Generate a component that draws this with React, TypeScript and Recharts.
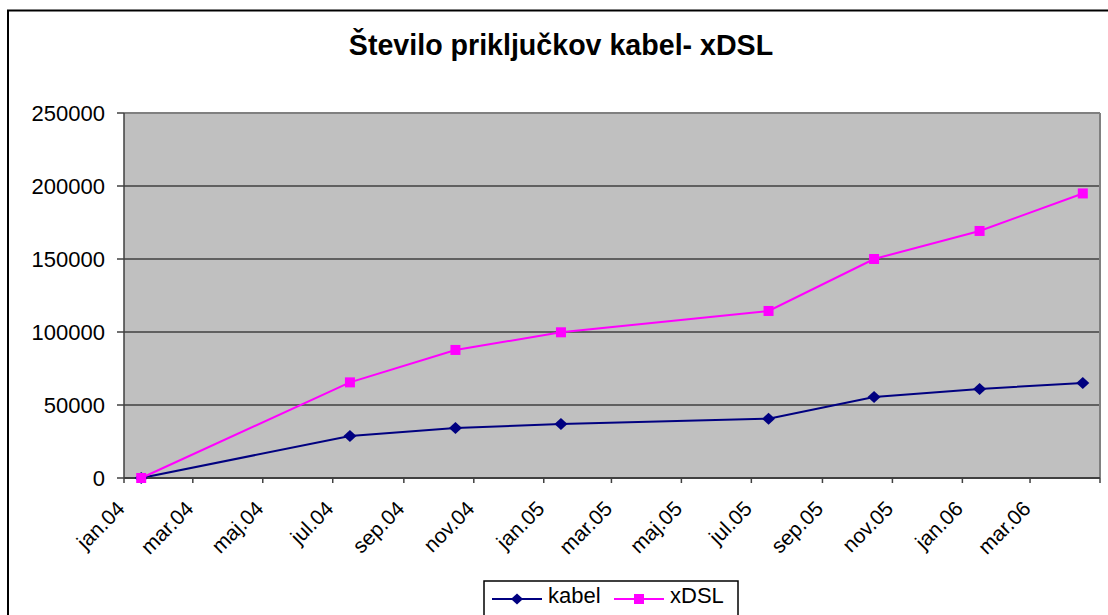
import React from 'react';
import {
  LineChart,
  Line,
  XAxis,
  YAxis,
  CartesianGrid,
  ReferenceLine,
  Legend,
} from 'recharts';

// measurement months (points sit in the middle of the month, like Excel's date axis)
const months = ['2004-01', '2004-07', '2004-10', '2005-01', '2005-07', '2005-10', '2006-01', '2006-04'];
const kabel = [0, 28800, 34300, 37000, 40600, 55500, 61000, 65100];
const xdsl = [0, 65500, 87700, 99800, 114400, 150000, 169200, 194900];

const tickLabels = [
  'jan.04', 'mar.04', 'maj.04', 'jul.04', 'sep.04', 'nov.04',
  'jan.05', 'mar.05', 'maj.05', 'jul.05', 'sep.05', 'nov.05',
  'jan.06', 'mar.06', '',
];
const yTicks = [0, 50000, 100000, 150000, 200000, 250000];

const KABEL_COLOR = '#000080';
const XDSL_COLOR = '#ff00ff';
const FONT = '"Liberation Sans", Arial, sans-serif';

const midMonth = (ym: string) => {
  const [y, m] = ym.split('-').map(Number);
  return Date.UTC(y, m - 1, 16);
};

const data = months.map((m, i) => ({
  t: midMonth(m),
  kabel: kabel[i],
  xDSL: xdsl[i],
}));

const xTicks = tickLabels.map((_, i) => Date.UTC(2004, i * 2, 1));
const xDomain = [xTicks[0], xTicks[xTicks.length - 1]];

const Diamond = (props: any) => {
  const { cx, cy, index } = props;
  if (cx == null || cy == null) return <g key={`d${index}`} />;
  return (
    <path
      key={`d${index}`}
      d={`M${cx},${cy - 6} L${cx + 6.5},${cy} L${cx},${cy + 6} L${cx - 6.5},${cy} Z`}
      fill={KABEL_COLOR}
    />
  );
};

const Square = (props: any) => {
  const { cx, cy, index } = props;
  if (cx == null || cy == null) return <g key={`s${index}`} />;
  return <rect key={`s${index}`} x={cx - 5} y={cy - 5} width={10} height={10} fill={XDSL_COLOR} />;
};

const XTick = (props: any) => {
  const { x, y, index } = props;
  const label = tickLabels[index] ?? '';
  return (
    <g transform={`translate(${x + 2},${y + 27})`}>
      <text
        x={0}
        y={0}
        textAnchor="end"
        transform="rotate(-45)"
        fontSize={21}
        fontFamily={FONT}
        fill="#000"
      >
        {label}
      </text>
    </g>
  );
};

const LegendBox = () => (
  <svg width={256} height={40} style={{ display: 'block' }}>
    <rect x={1} y={1} width={254} height={44} fill="#fff" stroke="#000" strokeWidth={1.5} />
    <line x1={9} y1={19} x2={59} y2={19} stroke={KABEL_COLOR} strokeWidth={2} />
    <path d="M34,13.5 L40,19 L34,24.5 L28,19 Z" fill={KABEL_COLOR} />
    <text x={65} y={23} fontSize={22} fontFamily={FONT} fill="#000">kabel</text>
    <line x1={131} y1={19} x2={181} y2={19} stroke={XDSL_COLOR} strokeWidth={2} />
    <rect x={151} y={14} width={10} height={10} fill={XDSL_COLOR} />
    <text x={187} y={23} fontSize={22} fontFamily={FONT} fill="#000">xDSL</text>
  </svg>
);

export default function App() {
  return (
    <div
      style={{
        position: 'absolute',
        left: 0,
        top: 0,
        width: 1108,
        height: 615,
        overflow: 'hidden',
        background: '#fff',
      }}
    >
      <LineChart
        width={1108}
        height={615}
        data={data}
        margin={{ top: 113, right: 8, bottom: 0, left: 0 }}
      >
        <CartesianGrid
          vertical={false}
          horizontalValues={[50000, 100000, 150000, 200000]}
          stroke="#000"
          strokeWidth={1.2}
          fill="#c0c0c0"
          fillOpacity={1}
        />
        <XAxis
          dataKey="t"
          type="number"
          domain={xDomain}
          ticks={xTicks}
          interval={0}
          allowDataOverflow
          height={137}
          tickSize={5}
          tickMargin={0}
          tick={<XTick />}
          tickLine={{ stroke: '#404040', strokeWidth: 1.5 }}
          axisLine={{ stroke: '#404040', strokeWidth: 2 }}
        />
        <YAxis
          width={124}
          domain={[0, 250000]}
          ticks={yTicks}
          interval={0}
          tickSize={7}
          tickMargin={12}
          tick={{ fill: '#000', fontSize: 22, fontFamily: FONT }}
          tickLine={{ stroke: '#404040', strokeWidth: 1.5 }}
          axisLine={{ stroke: '#404040', strokeWidth: 1.5 }}
        />
        <ReferenceLine y={250000} stroke="#808080" strokeWidth={2} />
        <ReferenceLine x={xDomain[1]} stroke="#808080" strokeWidth={2} />
        <Legend
          layout="horizontal"
          verticalAlign="middle"
          content={<LegendBox />}
          wrapperStyle={{ left: 483, top: 580, width: 256, height: 40 }}
        />
        <Line
          dataKey="kabel"
          name="kabel"
          stroke={KABEL_COLOR}
          strokeWidth={2}
          dot={Diamond}
          activeDot={false}
          isAnimationActive={false}
        />
        <Line
          dataKey="xDSL"
          name="xDSL"
          stroke={XDSL_COLOR}
          strokeWidth={2}
          dot={Square}
          activeDot={false}
          isAnimationActive={false}
        />
      </LineChart>
      <svg
        width={1108}
        height={615}
        style={{ position: 'absolute', left: 0, top: 0, pointerEvents: 'none' }}
      >
        <rect x={8} y={10.5} width={1200} height={700} fill="none" stroke="#000" strokeWidth={2} />
        <text
          x={561}
          y={55}
          textAnchor="middle"
          fontSize={28.6}
          fontWeight="bold"
          fontFamily={FONT}
          fill="#000"
        >
          Število priključkov kabel- xDSL
        </text>
      </svg>
    </div>
  );
}
